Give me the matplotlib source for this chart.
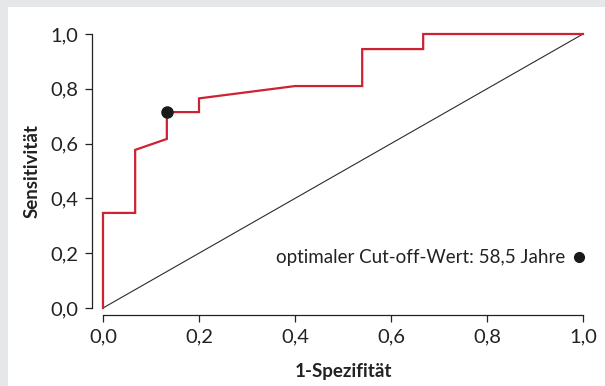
import matplotlib
matplotlib.use("Agg")
import matplotlib.pyplot as plt
import matplotlib.patches as mpatches

plt.rcParams['font.family'] = ['Lato', 'DejaVu Sans']

# ROC curve (1-specificity, sensitivity)
fpr = [0.0, 0.0, 0.067, 0.067, 0.133, 0.133, 0.2, 0.2, 0.4, 0.54, 0.54, 0.667, 0.667, 1.0]
tpr = [0.0, 0.347, 0.347, 0.577, 0.617, 0.715, 0.715, 0.765, 0.81, 0.81, 0.945, 0.945, 1.0, 1.0]
cutoff_point = (0.133, 0.715)
cutoff_label = "optimaler Cut-off-Wert: 58,5 Jahre"
ticks = [0.0, 0.2, 0.4, 0.6, 0.8, 1.0]
tick_labels = ["0,0", "0,2", "0,4", "0,6", "0,8", "1,0"]

fig = plt.figure(figsize=(6.05, 3.86), dpi=100)
fig.patch.set_facecolor('#e6e7e8')
panel = mpatches.Rectangle((8 / 605, 0), 1, 379 / 386, transform=fig.transFigure,
                           facecolor='white', edgecolor='none', zorder=-10)
fig.add_artist(panel)

ax = fig.add_axes([103 / 605, 78 / 386, 480 / 605, 274 / 386])
ax.set_zorder(1)
ax.set_facecolor('none')
ax.set_xlim(0, 1)
ax.set_ylim(0, 1)

ax.plot([0, 1], [0, 1], color='#2b2b2b', lw=0.8, clip_on=False)
ax.plot(fpr, tpr, color='#cc2231', lw=1.6, clip_on=False, solid_joinstyle='miter')
ax.plot(*cutoff_point, 'o', color='#1a1a1a', ms=8, clip_on=False, zorder=5)

ax.text(0.962, 0.186, cutoff_label, ha='right', va='center', fontsize=13.5, color='#222222')
ax.plot(0.992, 0.186, 'o', color='#1a1a1a', ms=7, clip_on=False)

for s in ['top', 'right']:
    ax.spines[s].set_visible(False)
ax.spines['left'].set_position(('outward', 8))
ax.spines['bottom'].set_position(('outward', 5))
for s in ['left', 'bottom']:
    ax.spines[s].set_bounds(0, 1)
    ax.spines[s].set_color('#222222')
    ax.spines[s].set_linewidth(0.9)

ax.set_xticks(ticks)
ax.set_xticklabels(tick_labels)
ax.set_yticks(ticks)
ax.set_yticklabels(tick_labels)
ax.tick_params(length=5, width=0.9, color='#222222', labelsize=14.5, labelcolor='#222222', pad=5)

ax.set_xlabel("1-Spezifität", fontsize=13.5, fontweight='bold', color='#222222', labelpad=12)
ax.set_ylabel("Sensitivität", fontsize=13.5, fontweight='bold', color='#222222', labelpad=7)

fig.savefig("out.png", dpi=100, facecolor=fig.get_facecolor())
